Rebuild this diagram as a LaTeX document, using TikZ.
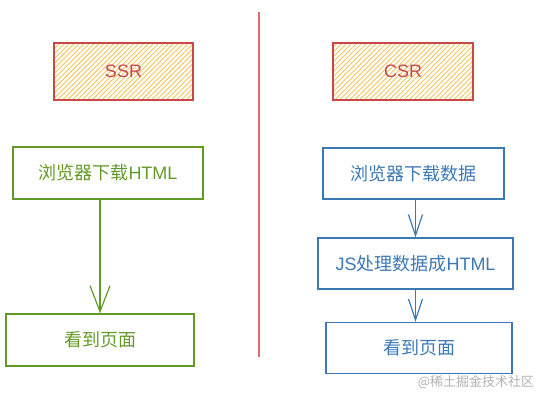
\documentclass[tikz,border=0pt]{standalone}
\usepackage{fontspec}
\setmainfont{Liberation Sans}
\newfontfamily\cjk{Noto Sans CJK SC}
\usetikzlibrary{arrows.meta,patterns.meta}
\definecolor{redline}{HTML}{C8474B}
\definecolor{hatch}{HTML}{F2C45C}
\definecolor{greenline}{HTML}{639A25}
\definecolor{blueline}{HTML}{3C78B5}
\definecolor{divider}{HTML}{DD6B73}
\begin{document}
\begin{tikzpicture}[x=1pt,y=-1pt,
  title/.style={draw=redline,line width=1.2pt,text=redline,font=\fontsize{18}{20}\selectfont,
    minimum width=139pt,minimum height=57pt,
    pattern={Lines[angle=45,distance=3.5pt,line width=0.9pt]},pattern color=hatch},
  sbox/.style={draw=greenline,line width=1.4pt,text=greenline,font=\fontsize{18}{20}\selectfont,
    minimum height=52pt},
  cbox/.style={draw=blueline,line width=1.3pt,text=blueline,font=\fontsize{18}{20}\selectfont,
    minimum height=51pt},
  barb/.style={-{Straight Barb[length=26pt,width=20pt,line width=1.2pt]}},
  smallbarb/.style={-{Straight Barb[length=21pt,width=14pt,line width=1.2pt]}}]
\useasboundingbox (0,0) rectangle (537,400);

\node[title] (ssr) at (123.5,71.5) {SSR};
\node[title,minimum width=140pt] (csr) at (403,71.5) {CSR};

\node[sbox,minimum width=190pt] (s1) at (108,173) {{\cjk 浏览器下载}HTML};
\node[sbox,minimum width=188pt] (s2) at (100,340) {\cjk 看到页面};

\node[cbox,minimum width=181pt] (c1) at (413.5,173.5) {\cjk 浏览器下载数据};
\node[cbox,minimum width=195pt] (c2) at (415.5,263.5) {JS{\cjk 处理数据成}HTML};
\node[cbox,minimum width=186pt] (c3) at (419,348) {\cjk 看到页面};

\coordinate (top) at (259,12);
\coordinate (bottom) at (259,357);
\draw[divider,line width=1.3pt] (top) -- (bottom);

\draw[greenline,line width=1.3pt,barb] (s1.south -| s2.north) -- (s2.north);
\draw[blueline,line width=1.2pt,smallbarb] (c1.south -| c2.north) -- (c2.north);
\draw[blueline,line width=1.2pt,smallbarb] (c2.south) -- (c2.south |- c3.north);

\node[text=black!30,font=\cjk\fontsize{13}{15}\selectfont] (mark) at (476,382) {@稀土掘金技术社区};
\end{tikzpicture}
\end{document}
